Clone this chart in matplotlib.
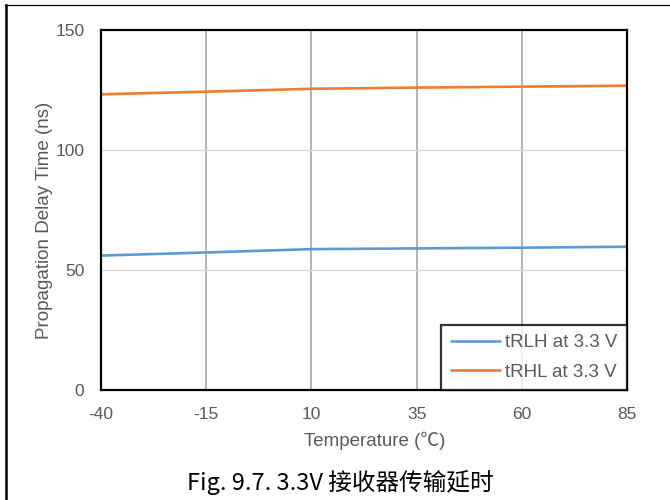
import matplotlib
matplotlib.use("Agg")
import matplotlib.pyplot as plt
from matplotlib.lines import Line2D

temperature = [-40, -15, 10, 35, 60, 85]
t_rlh = [56.0, 57.3, 58.7, 59.0, 59.3, 59.7]
t_rhl = [123.2, 124.3, 125.5, 126.0, 126.4, 126.8]
x_ticks = [-40, -15, 10, 35, 60, 85]
y_ticks = [0, 50, 100, 150]
series_names = ["tRLH at 3.3 V", "tRHL at 3.3 V"]

plt.rcParams["font.family"] = ["Liberation Sans", "DejaVu Sans"]
plt.rcParams["axes.unicode_minus"] = False

fig = plt.figure(figsize=(6.7, 5.0), dpi=100)
ax = fig.add_axes([101 / 670, 1 - 390 / 500, 526 / 670, 360 / 500])

ax.plot(temperature, t_rlh, color="#5B9BD5", lw=1.9, label=series_names[0], solid_capstyle="butt")
ax.plot(temperature, t_rhl, color="#ED7D31", lw=1.9, label=series_names[1], solid_capstyle="butt")

ax.set_xlim(-40, 85)
ax.set_ylim(0, 150)
ax.set_xticks(x_ticks)
ax.set_yticks(y_ticks)
ax.tick_params(length=0, labelsize=12.5, labelcolor="#595959")
ax.tick_params(axis="x", pad=12)
ax.tick_params(axis="y", pad=12)

for x in x_ticks[1:-1]:
    ax.axvline(x, color="#a6a6a6", lw=1.2, zorder=0)
for y in y_ticks[1:-1]:
    ax.axhline(y, color="#d9d9d9", lw=1.0, zorder=0)

for s in ax.spines.values():
    s.set_linewidth(1.6)
    s.set_color("black")

ax.set_xlabel("Temperature (℃)", fontsize=13.5, color="#595959", family=["Liberation Sans", "Noto Sans CJK SC", "DejaVu Sans"])
ax.xaxis.set_label_coords(0.52, -0.115)
ax.set_ylabel("Propagation Delay Time (ns)", fontsize=13.5, color="#595959")
ax.yaxis.set_label_coords(-0.092, 0.47)

leg = ax.legend(loc="lower right", bbox_to_anchor=(1.0, 0.0), fontsize=13.5, frameon=True,
                fancybox=False, borderaxespad=0, handlelength=2.7, handletextpad=0.25,
                labelspacing=0.65, borderpad=0.5)
for t in leg.get_texts():
    t.set_color("#595959")
leg.get_frame().set_edgecolor("black")
leg.get_frame().set_linewidth(1.6)

fig.text(340 / 670, 1 - 483 / 500, "Fig. 9.7. 3.3V 接收器传输延时", ha="center", va="center",
         fontsize=17, color="black", family=["Noto Sans CJK SC", "DejaVu Sans"])

# page frame: left rule and top rule
fig.add_artist(Line2D([6 / 670, 6 / 670], [0, 1 - 5 / 500], transform=fig.transFigure, color="black", lw=1.8))
fig.add_artist(Line2D([5 / 670, 1.0], [1 - 5 / 500, 1 - 5 / 500], transform=fig.transFigure, color="black", lw=0.9))

fig.savefig("out.png", dpi=100)
